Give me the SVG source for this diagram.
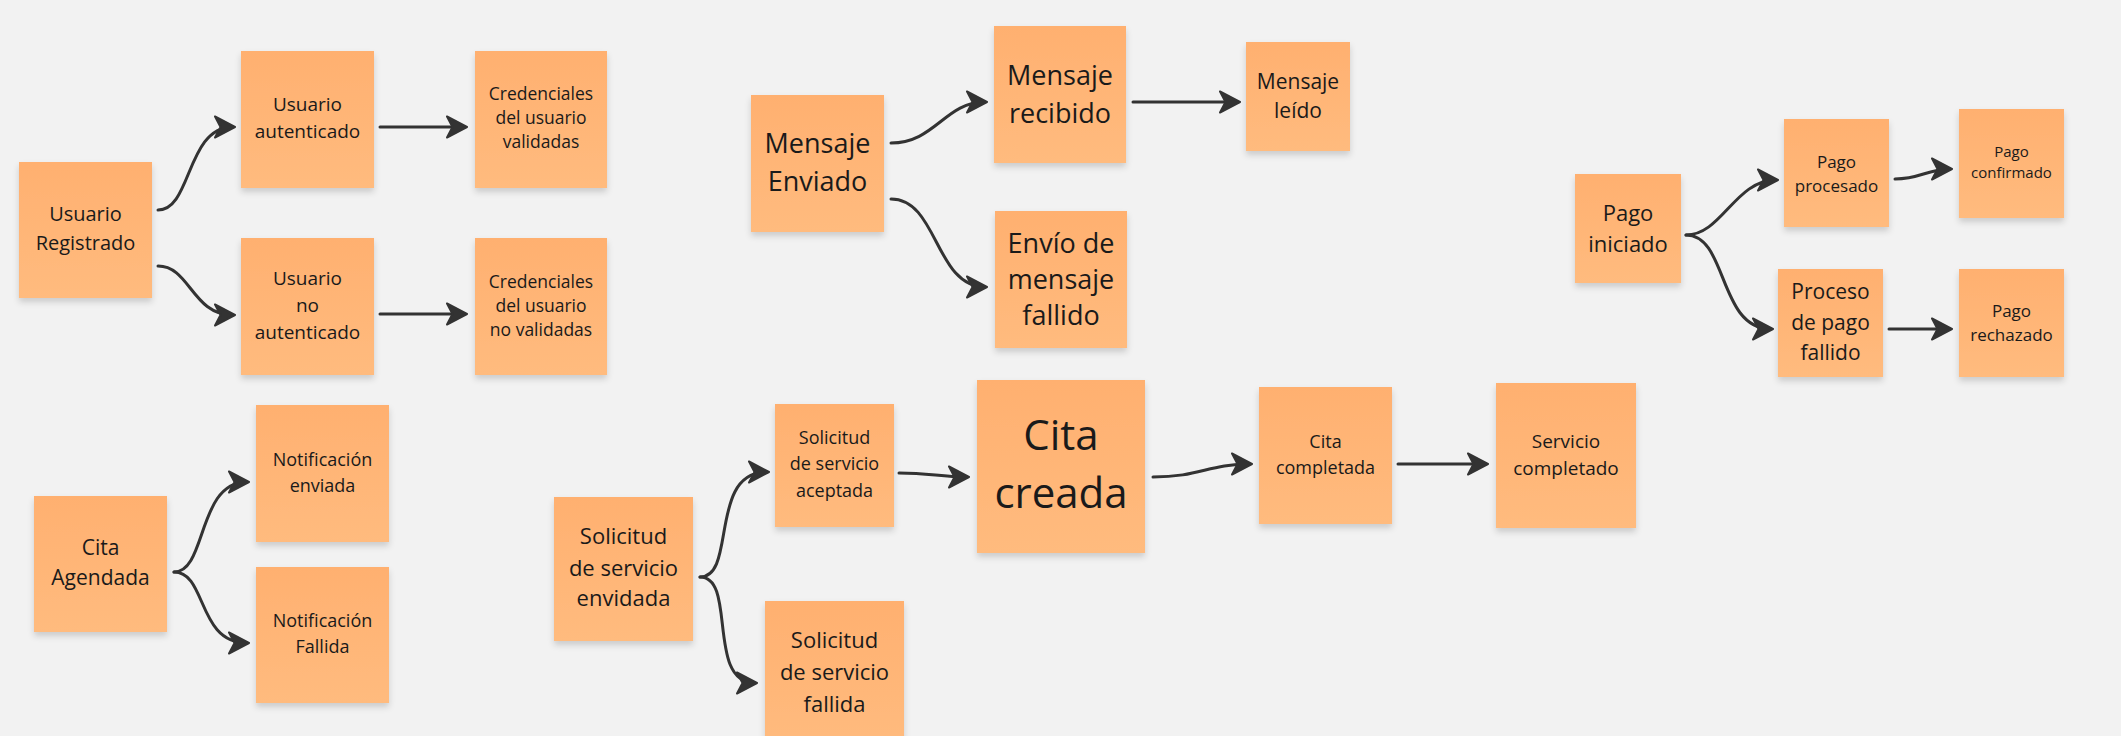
<svg xmlns="http://www.w3.org/2000/svg" width="2121" height="736" viewBox="0 0 2121 736">
<defs>
<linearGradient id="sg" x1="0" y1="0" x2="0" y2="1">
<stop offset="0" stop-color="#FFB070"/>
<stop offset="1" stop-color="#FFBB7E"/>
</linearGradient>
<filter id="sh" x="-10%" y="-10%" width="120%" height="125%">
<feDropShadow dx="0" dy="4" stdDeviation="3" flood-color="#000" flood-opacity="0.16"/>
</filter>
<marker id="ah" markerUnits="userSpaceOnUse" markerWidth="24" markerHeight="26" refX="19" refY="12" orient="auto" viewBox="0 0 24 24">
<path d="M1,1.5 L21,12 L1,22.5 L6.5,12 Z" fill="#333333" stroke="#333333" stroke-width="2" stroke-linejoin="round"/>
</marker>
<style>
.s{fill:url(#sg);filter:url(#sh)}
.t{font-family:"Open Sans","Noto Sans","Liberation Sans",sans-serif;fill:#1a1a1a;text-anchor:middle}
.c{fill:none;stroke:#333333;stroke-width:3;stroke-linecap:round;marker-end:url(#ah)}
</style>
</defs>
<rect width="2121" height="736" fill="#F2F2F2"/>

<g id="connectors">
<path class="c" d="M158,210 C192,210 186,127 233,127"/>
<path class="c" d="M158,266 C190,266 192,315 233,315"/>
<path class="c" d="M380,127 L465,127"/>
<path class="c" d="M380,314 L465,314"/>
<path class="c" d="M891,143 C935,143 945,102 985,102"/>
<path class="c" d="M891,199 C938,199 935,287 985,287"/>
<path class="c" d="M1133,102 L1238,102"/>
<path class="c" d="M1686,235 C1722,235 1735,180 1776,180"/>
<path class="c" d="M1686,235 C1728,235 1718,329 1771,329"/>
<path class="c" d="M1895,179 C1920,179 1928,169 1950,169"/>
<path class="c" d="M1889,329 L1950,329"/>
<path class="c" d="M174,572 C207,572 197,482 247,482"/>
<path class="c" d="M174,572 C207,572 197,643 247,643"/>
<path class="c" d="M700,577 C737,577 708,472 767,472"/>
<path class="c" d="M700,577 C737,577 706,683 755,683"/>
<path class="c" d="M899,473 C930,473 940,477 967,477"/>
<path class="c" d="M1153,477 C1200,477 1208,464 1250,464"/>
<path class="c" d="M1398,464 L1486,464"/>
</g>

<g id="n1"><rect class="s" x="19" y="162" width="133" height="136"/>
<text class="t" font-size="20" x="85.5"><tspan x="85.5" y="221">Usuario</tspan><tspan x="85.5" y="250">Registrado</tspan></text></g>

<g id="n2"><rect class="s" x="241" y="51" width="133" height="137"/>
<text class="t" font-size="19" x="307.5"><tspan x="307.5" y="111">Usuario</tspan><tspan x="307.5" y="138">autenticado</tspan></text></g>

<g id="n3"><rect class="s" x="475" y="51" width="132" height="137"/>
<text class="t" font-size="17.5" x="541"><tspan x="541" y="100">Credenciales</tspan><tspan x="541" y="124">del usuario</tspan><tspan x="541" y="148">validadas</tspan></text></g>

<g id="n4"><rect class="s" x="241" y="238" width="133" height="137"/>
<text class="t" font-size="19" x="307.5"><tspan x="307.5" y="285">Usuario</tspan><tspan x="307.5" y="312">no</tspan><tspan x="307.5" y="339">autenticado</tspan></text></g>

<g id="n5"><rect class="s" x="475" y="238" width="132" height="137"/>
<text class="t" font-size="17.5" x="541"><tspan x="541" y="288">Credenciales</tspan><tspan x="541" y="312">del usuario</tspan><tspan x="541" y="336">no validadas</tspan></text></g>

<g id="n6"><rect class="s" x="751" y="95" width="133" height="137"/>
<text class="t" font-size="27" x="817.5"><tspan x="817.5" y="153">Mensaje</tspan><tspan x="817.5" y="191">Enviado</tspan></text></g>

<g id="n7"><rect class="s" x="994" y="26" width="132" height="137"/>
<text class="t" font-size="27" x="1060"><tspan x="1060" y="85">Mensaje</tspan><tspan x="1060" y="123">recibido</tspan></text></g>

<g id="n8"><rect class="s" x="1246" y="42" width="104" height="109"/>
<text class="t" font-size="21" x="1298"><tspan x="1298" y="89">Mensaje</tspan><tspan x="1298" y="118">leído</tspan></text></g>

<g id="n9"><rect class="s" x="995" y="211" width="132" height="137"/>
<text class="t" font-size="27" x="1061"><tspan x="1061" y="253">Envío de</tspan><tspan x="1061" y="289">mensaje</tspan><tspan x="1061" y="325">fallido</tspan></text></g>

<g id="n10"><rect class="s" x="1575" y="174" width="106" height="109"/>
<text class="t" font-size="22" x="1628"><tspan x="1628" y="221">Pago</tspan><tspan x="1628" y="252">iniciado</tspan></text></g>

<g id="n11"><rect class="s" x="1784" y="119" width="105" height="108"/>
<text class="t" font-size="17" x="1836.5"><tspan x="1836.5" y="168">Pago</tspan><tspan x="1836.5" y="192">procesado</tspan></text></g>

<g id="n12"><rect class="s" x="1959" y="109" width="105" height="109"/>
<text class="t" font-size="15" x="2011.5"><tspan x="2011.5" y="157">Pago</tspan><tspan x="2011.5" y="178">confirmado</tspan></text></g>

<g id="n13"><rect class="s" x="1778" y="269" width="105" height="108"/>
<text class="t" font-size="21" x="1830.5"><tspan x="1830.5" y="299">Proceso</tspan><tspan x="1830.5" y="330">de pago</tspan><tspan x="1830.5" y="360">fallido</tspan></text></g>

<g id="n14"><rect class="s" x="1959" y="269" width="105" height="108"/>
<text class="t" font-size="17" x="2011.5"><tspan x="2011.5" y="317">Pago</tspan><tspan x="2011.5" y="341">rechazado</tspan></text></g>

<g id="n15"><rect class="s" x="34" y="496" width="133" height="136"/>
<text class="t" font-size="21" x="100.5"><tspan x="100.5" y="555">Cita</tspan><tspan x="100.5" y="585">Agendada</tspan></text></g>

<g id="n16"><rect class="s" x="256" y="405" width="133" height="137"/>
<text class="t" font-size="18" x="322.5"><tspan x="322.5" y="466">Notificación</tspan><tspan x="322.5" y="492">enviada</tspan></text></g>

<g id="n17"><rect class="s" x="256" y="567" width="133" height="136"/>
<text class="t" font-size="18" x="322.5"><tspan x="322.5" y="627">Notificación</tspan><tspan x="322.5" y="653">Fallida</tspan></text></g>

<g id="n18"><rect class="s" x="554" y="497" width="139" height="144"/>
<text class="t" font-size="22" x="623.5"><tspan x="623.5" y="544">Solicitud</tspan><tspan x="623.5" y="576">de servicio</tspan><tspan x="623.5" y="606">envidada</tspan></text></g>

<g id="n19"><rect class="s" x="775" y="404" width="119" height="123"/>
<text class="t" font-size="18" x="834.5"><tspan x="834.5" y="444">Solicitud</tspan><tspan x="834.5" y="470">de servicio</tspan><tspan x="834.5" y="497">aceptada</tspan></text></g>

<g id="n20"><rect class="s" x="765" y="601" width="139" height="144"/>
<text class="t" font-size="22" x="834.5"><tspan x="834.5" y="648">Solicitud</tspan><tspan x="834.5" y="680">de servicio</tspan><tspan x="834.5" y="712">fallida</tspan></text></g>

<g id="n21"><rect class="s" x="977" y="380" width="168" height="173"/>
<text class="t" font-size="42" x="1061"><tspan x="1061" y="450">Cita</tspan><tspan x="1061" y="508">creada</tspan></text></g>

<g id="n22"><rect class="s" x="1259" y="387" width="133" height="137"/>
<text class="t" font-size="18" x="1325.5"><tspan x="1325.5" y="448">Cita</tspan><tspan x="1325.5" y="474">completada</tspan></text></g>

<g id="n23"><rect class="s" x="1496" y="383" width="140" height="145"/>
<text class="t" font-size="19" x="1566"><tspan x="1566" y="448">Servicio</tspan><tspan x="1566" y="475">completado</tspan></text></g>
</svg>
